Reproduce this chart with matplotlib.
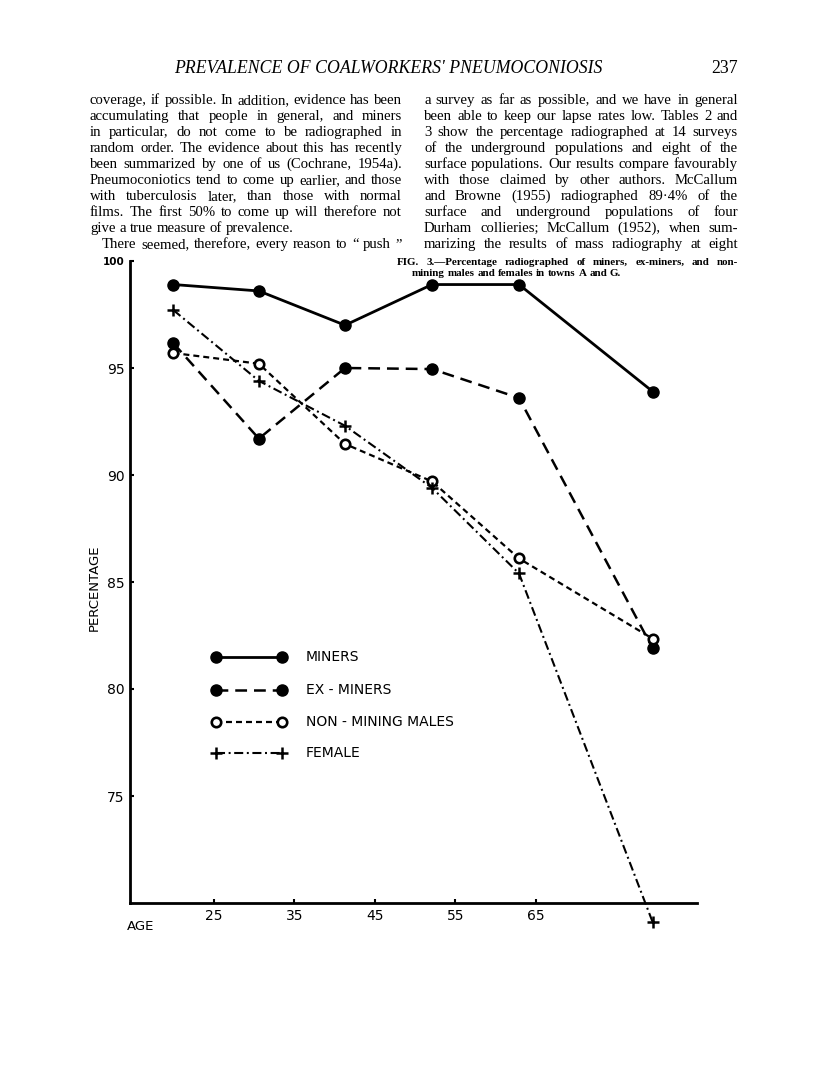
import matplotlib
matplotlib.use("Agg")
import matplotlib.pyplot as plt
from matplotlib.lines import Line2D

# ---------------- data ----------------
ages = [20.0, 30.6, 41.3, 52.1, 62.9, 79.5]
miners = [98.9, 98.6, 97.0, 98.9, 98.9, 93.9]
ex_miners = [96.15, 91.7, 95.0, 94.95, 93.6, 81.9]
non_mining = [95.7, 95.2, 91.45, 89.7, 86.1, 82.35]
female = [97.7, 94.4, 92.3, 89.4, 85.4, 69.1]

x_ticks = [25, 35, 45, 55, 65]
y_ticks = [75, 80, 85, 90, 95, 100]
series_labels = ["MINERS", "EX - MINERS", "NON - MINING MALES", "FEMALE"]

header = "PREVALENCE OF COALWORKERS' PNEUMOCONIOSIS"
page_no = "237"
left_col = [
    "coverage, if possible.  In addition, evidence has been",
    "accumulating that people in general, and miners",
    "in particular, do not come to be radiographed in",
    "random order.  The evidence about this has recently",
    "been summarized by one of us (Cochrane, 1954a).",
    "Pneumoconiotics tend to come up earlier, and those",
    "with tuberculosis later, than those with normal",
    "films.  The first 50% to come up will therefore not",
    "give a true measure of prevalence.",
    "There seemed, therefore, every reason to \u201c push \u201d",
]
right_col = [
    "a survey as far as possible, and we have in general",
    "been able to keep our lapse rates low.  Tables 2 and",
    "3 show the percentage radiographed at 14 surveys",
    "of the underground populations and eight of the",
    "surface populations.  Our results compare favourably",
    "with those claimed by other authors.  McCallum",
    "and Browne (1955) radiographed 89\u00b74% of the",
    "surface and underground populations of four",
    "Durham collieries; McCallum (1952), when sum-",
    "marizing the results of mass radiography at eight",
]
caption = [
    "FIG. 3.\u2014Percentage radiographed of miners, ex-miners, and non-",
    "mining males and females in towns A and G.",
]

W, H = 816, 1074
plt.rcParams['lines.scale_dashes'] = False
fig = plt.figure(figsize=(W / 100, H / 100), dpi=100)
fig.patch.set_facecolor("white")
renderer = fig.canvas.get_renderer()


def fx(px):
    return px / W


def fy(py):
    return 1 - py / H


def place_line(text, x0, x1, y, size, justify=True, indent=0, **kw):
    words = text.split()
    objs = []
    widths = []
    for w in words:
        t = fig.text(0, fy(y), w, fontsize=size, va="baseline", ha="left", **kw)
        bb = t.get_window_extent(renderer)
        objs.append(t)
        widths.append(bb.width)
    sp = fig.text(0, 0, "a a", fontsize=size, **kw)
    sp2 = fig.text(0, 0, "aa", fontsize=size, **kw)
    space = sp.get_window_extent(renderer).width - sp2.get_window_extent(renderer).width
    sp.remove(); sp2.remove()
    start = x0 + indent
    if justify and len(words) > 1:
        gap = (x1 - start - sum(widths)) / (len(words) - 1)
    else:
        gap = space
    x = start
    for t, w in zip(objs, widths):
        t.set_x(fx(x))
        x += w + gap


serif = dict(family="Liberation Serif")

# header
fig.text(fx(388), fy(73), header, fontsize=12.8, style="italic", ha="center",
         va="baseline", **serif)
fig.text(fx(738), fy(73), page_no, fontsize=12.8, ha="right", va="baseline", **serif)

# body columns
base0, step = 104, 16.0
for i, line in enumerate(left_col):
    just = i != 8
    ind = 12 if i == 9 else 0
    place_line(line, 90, 402, base0 + i * step, 10.6, justify=just, indent=ind, **serif)
for i, line in enumerate(right_col):
    place_line(line, 424, 738, base0 + i * step, 10.6, justify=True, **serif)

# caption
place_line(caption[0], 397, 738, 265, 7.9, justify=True, weight="bold", **serif)
place_line(caption[1], 412, 738, 276, 7.9, justify=False, weight="bold", **serif)

# ---------------- chart ----------------
ax = fig.add_axes([fx(130), 1 - 903 / H, fx(697) - fx(130), (903 - 261) / H])
ax.set_xlim(14.6, 85.0)
ax.set_ylim(70, 100)

ax.plot(ages, miners, color="black", lw=2.0, linestyle="-", marker="o",
        markersize=8, markerfacecolor="black", markeredgecolor="black",
        clip_on=False, zorder=5)
ax.plot(ages, ex_miners, color="black", lw=1.8, linestyle=(0, (8.5, 5.0)),
        marker="o", markersize=8, markerfacecolor="black",
        markeredgecolor="black", clip_on=False, zorder=5)
ax.plot(ages, non_mining, color="black", lw=1.6, linestyle=(0, (4.3, 2.9)),
        marker="o", markersize=6.8, markerfacecolor="white",
        markeredgecolor="black", markeredgewidth=1.9, clip_on=False, zorder=6)
ax.plot(ages, female, color="black", lw=1.5,
        linestyle=(0, (6.5, 2.6, 1.4, 2.6)), marker="+", markersize=9,
        markeredgewidth=1.8, clip_on=False, zorder=6)

for s in ["top", "right"]:
    ax.spines[s].set_visible(False)
for s in ["left", "bottom"]:
    ax.spines[s].set_linewidth(2.0)

ax.set_xticks(x_ticks)
ax.set_xticklabels([str(v) for v in x_ticks], fontsize=10, family="DejaVu Sans")
ax.set_yticks(y_ticks)
ax.set_yticklabels([str(v) for v in y_ticks], fontsize=10, family="DejaVu Sans")
ax.get_yticklabels()[-1].set_fontsize(7.5)
ax.get_yticklabels()[-1].set_fontweight("bold")
ax.tick_params(direction="in", length=3, width=1.5, pad=4)

ax.text(fx(94), fy(588), "PERCENTAGE", transform=fig.transFigure, rotation=90,
        fontsize=9.5, ha="center", va="center", family="DejaVu Sans")
ax.text(fx(141), fy(927), "AGE", transform=fig.transFigure, fontsize=9.5,
        ha="center", va="center", family="DejaVu Sans")

# legend drawn by hand
styles = [
    dict(lw=2.0, linestyle="-", marker="o", markersize=8,
         markerfacecolor="black"),
    dict(lw=1.8, linestyle=(0, (8.5, 5.0)), marker="o", markersize=8,
         markerfacecolor="black"),
    dict(lw=1.6, linestyle=(0, (4.3, 2.9)), marker="o", markersize=6.8,
         markerfacecolor="white", markeredgewidth=1.9),
    dict(lw=1.5, linestyle=(0, (6.5, 2.6, 1.4, 2.6)), marker="+",
         markersize=9, markeredgewidth=1.8),
]
leg_y = [657, 690, 722, 753]
for lab, st, py in zip(series_labels, styles, leg_y):
    yy = fy(py)
    ln = Line2D([fx(216), fx(282)], [yy, yy], color="black",
                markeredgecolor="black", transform=fig.transFigure, **st)
    fig.add_artist(ln)
    fig.text(fx(306), yy, lab, fontsize=10, va="center", ha="left",
             family="DejaVu Sans")

fig.savefig("out.png", dpi=100, facecolor="white")
